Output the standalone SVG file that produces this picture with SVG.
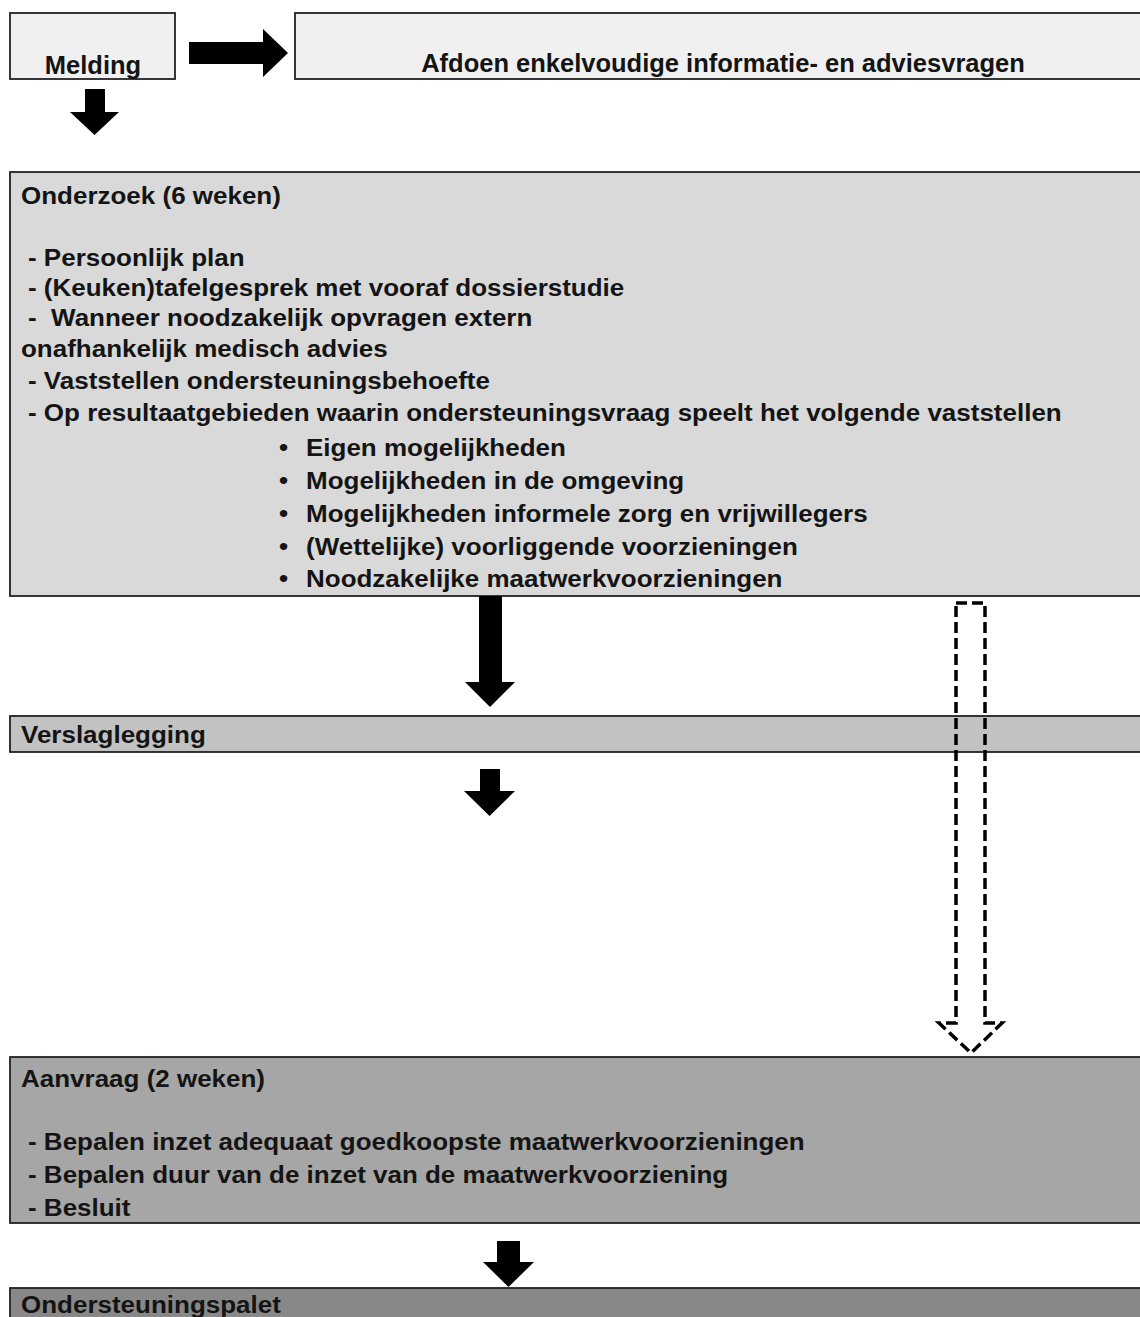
<svg xmlns="http://www.w3.org/2000/svg" width="1140" height="1317" viewBox="0 0 1140 1317">
<style>
.box{stroke:#222;stroke-width:1.8}
.t{font-family:"Liberation Sans",Arial,sans-serif;font-weight:bold;fill:#141414;white-space:pre}
.big{font-size:25.5px}
.s{font-size:23px}
.arr{fill:#000}
.dash{fill:none;stroke:#000;stroke-width:3.5;stroke-dasharray:11 5}
</style>
<rect width="1140" height="1317" fill="#fff"/>
<g id="melding">
<rect class="box" x="10" y="13" width="165" height="66" fill="#f0f0f0"/>
<text class="t big" x="93" y="74" text-anchor="middle">Melding</text>
</g>
<g id="afdoen">
<rect class="box" x="295" y="13" width="860" height="66" fill="#f0f0f0"/>
<text class="t big" x="723" y="72" text-anchor="middle">Afdoen enkelvoudige informatie- en adviesvragen</text>
</g>
<g id="onderzoek">
<rect class="box" x="10" y="172" width="1145" height="424" fill="#d9d9d9"/>
<text class="t s" transform="translate(21,204) scale(1.13,1)">Onderzoek (6 weken)</text>
<text class="t s" transform="translate(28,266) scale(1.13,1)">- Persoonlijk plan</text>
<text class="t s" transform="translate(28,296) scale(1.13,1)">- (Keuken)tafelgesprek met vooraf dossierstudie</text>
<text class="t s" transform="translate(28,326) scale(1.13,1)">-  Wanneer noodzakelijk opvragen extern</text>
<text class="t s" transform="translate(21,357) scale(1.13,1)">onafhankelijk medisch advies</text>
<text class="t s" transform="translate(28,389) scale(1.13,1)">- Vaststellen ondersteuningsbehoefte</text>
<text class="t s" transform="translate(28,421) scale(1.13,1)">- Op resultaatgebieden waarin ondersteuningsvraag speelt het volgende vaststellen</text>
<text class="t s" transform="translate(279,456) scale(1.13,1)">•</text>
<text class="t s" transform="translate(306,456) scale(1.13,1)">Eigen mogelijkheden</text>
<text class="t s" transform="translate(279,489) scale(1.13,1)">•</text>
<text class="t s" transform="translate(306,489) scale(1.13,1)">Mogelijkheden in de omgeving</text>
<text class="t s" transform="translate(279,522) scale(1.13,1)">•</text>
<text class="t s" transform="translate(306,522) scale(1.13,1)">Mogelijkheden informele zorg en vrijwillegers</text>
<text class="t s" transform="translate(279,555) scale(1.13,1)">•</text>
<text class="t s" transform="translate(306,555) scale(1.13,1)">(Wettelijke) voorliggende voorzieningen</text>
<text class="t s" transform="translate(279,587) scale(1.13,1)">•</text>
<text class="t s" transform="translate(306,587) scale(1.13,1)">Noodzakelijke maatwerkvoorzieningen</text>
</g>
<g id="verslaglegging">
<rect class="box" x="10" y="716" width="1145" height="36" fill="#c2c2c2"/>
<text class="t s" transform="translate(21,743) scale(1.13,1)">Verslaglegging</text>
</g>
<g id="aanvraag">
<rect class="box" x="10" y="1057" width="1145" height="166" fill="#a6a6a6"/>
<text class="t s" transform="translate(21,1087) scale(1.13,1)">Aanvraag (2 weken)</text>
<text class="t s" transform="translate(28,1150) scale(1.13,1)">- Bepalen inzet adequaat goedkoopste maatwerkvoorzieningen</text>
<text class="t s" transform="translate(28,1183) scale(1.13,1)">- Bepalen duur van de inzet van de maatwerkvoorziening</text>
<text class="t s" transform="translate(28,1216) scale(1.13,1)">- Besluit</text>
</g>
<g id="ondersteuningspalet">
<rect class="box" x="10" y="1288" width="1145" height="60" fill="#888888"/>
<text class="t s" transform="translate(21,1313) scale(1.13,1)">Ondersteuningspalet</text>
</g>
<g id="connectors">
<polygon class="arr" points="189,42 263,42 263,29 288,53 263,77 263,64 189,64"/>
<polygon class="arr" points="85,89 105,89 105,112 119,112 94.5,135 70,112 85,112"/>
<polygon class="arr" points="479,596 502,596 502,682 515,682 490,707 465,682 479,682"/>
<polygon class="arr" points="480,769 500,769 500,791 515,791 489.5,816 464,791 480,791"/>
<polygon class="arr" points="497,1241 520,1241 520,1262 534,1262 508.5,1287 483,1262 497,1262"/>
<polygon class="dash" points="956,603 985,603 985,1023 1002,1023 971,1053 939,1023 956,1023"/>
</g>
</svg>
